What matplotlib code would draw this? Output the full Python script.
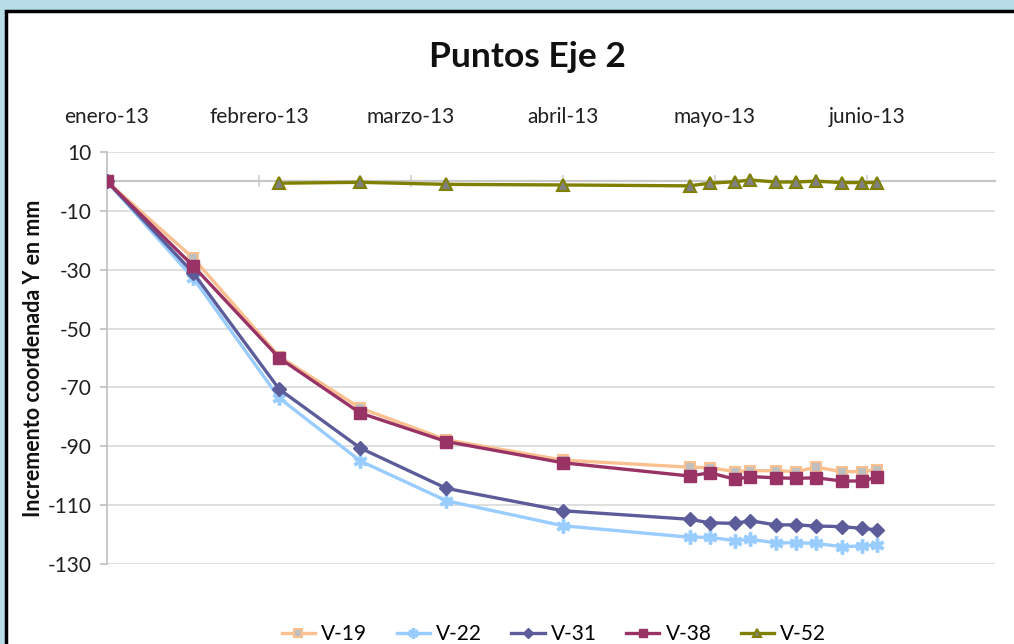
import matplotlib
matplotlib.use("Agg")
import matplotlib.pyplot as plt
from matplotlib.patches import Rectangle

plt.rcParams['font.family'] = ['Lato', 'DejaVu Sans']
plt.rcParams['axes.unicode_minus'] = False

# Days since axis start
days = [0, 17, 34, 50, 67, 90, 115, 119, 124, 127, 132, 136, 140, 145, 149, 152]
days_v52 = days[2:]

v19 = [0, -26, -59.5, -77, -87.8, -94.7, -97.1, -97.3, -98.6, -98.3, -98.3, -98.6, -97.1, -98.6, -98.6, -98.0]
v22 = [0, -32.8, -73.6, -95, -108.5, -117, -120.9, -120.9, -122.1, -121.6, -122.8, -122.8, -123.0, -124.1, -123.9, -123.5]
v31 = [0, -31, -70.6, -90.6, -104.3, -111.9, -114.8, -116.0, -116.2, -115.3, -116.7, -116.7, -117.1, -117.3, -117.9, -118.4]
v38 = [0, -28.7, -60, -78.7, -88.4, -95.6, -100.1, -99.0, -101.2, -100.3, -100.7, -100.9, -100.7, -101.8, -101.8, -100.5]
v52 = [-0.6, -0.3, -1.0, -1.2, -1.5, -0.6, -0.1, 0.5, -0.2, -0.2, 0.1, -0.4, -0.4, -0.4]

month_ticks = [0, 30, 60, 90, 120, 150]
month_labels = ["enero-13", "febrero-13", "marzo-13", "abril-13", "mayo-13", "junio-13"]
y_ticks = [10, -10, -30, -50, -70, -90, -110, -130]

W, H = 1014, 644
FS = 15
fig = plt.figure(figsize=(W / 100, H / 100), dpi=100)
fig.patch.set_facecolor('#b7dee8')
bg = Rectangle((6 / W, -0.1), 1.1, 1 - 11 / H + 0.1, transform=fig.transFigure,
               facecolor='white', edgecolor='black', linewidth=2.5, zorder=-10)
fig.add_artist(bg)

ax = fig.add_axes([107 / W, 1 - 564 / H, (995 - 107) / W, (564 - 152) / H])
ax.set_zorder(1)
ax.set_facecolor('none')

lw = 2.4
ax.plot(days, v19, color='#fac090', lw=lw, marker='s', ms=7, mfc='#bfbfbf', mec='#fac090', mew=1.5, label='V-19', zorder=3)
ax.plot(days, v22, color='#99ccff', lw=lw, marker=(6, 2, 0), ms=10, mec='#99ccff', mew=2.5, label='V-22', zorder=4)
ax.plot(days, v31, color='#5c5c9a', lw=lw, marker='D', ms=7, mfc='#5c5c9a', mec='#5c5c9a', label='V-31', zorder=5)
ax.plot(days, v38, color='#993366', lw=lw, marker='s', ms=8, mfc='#993366', mec='#993366', label='V-38', zorder=6)
ax.plot(days_v52, v52, color='#808000', lw=lw, marker='^', ms=8, mfc='#808080', mec='#808000', mew=1.5, label='V-52', zorder=7)

ax.set_xlim(0, 175.3)
ax.set_ylim(-130, 10)
ax.set_yticks(y_ticks)
ax.set_yticklabels([str(v) for v in y_ticks])
ax.set_xticks(month_ticks)
ax.set_xticklabels(month_labels)

ax.grid(axis='y', color='#d9d9d9', lw=1.2)
ax.set_axisbelow(True)
for s in ['top', 'right']:
    ax.spines[s].set_visible(False)
ax.spines['left'].set_color('#bfbfbf')
ax.spines['left'].set_linewidth(1.2)
ax.spines['bottom'].set_position(('data', 0))
ax.spines['bottom'].set_color('#c8c8c8')
ax.spines['bottom'].set_linewidth(1.6)

ax.tick_params(axis='y', length=5, width=1.2, color='#bfbfbf', labelsize=FS, labelcolor='#202020', pad=6)
ax.tick_params(axis='x', bottom=True, top=False, labelbottom=False, labeltop=True,
               direction='inout', length=8, width=1.2, color='#d0d0d0', labelsize=FS,
               labelcolor='#202020', pad=14)

ax.set_ylabel("Incremento coordenada Y en mm", fontsize=15.5, fontweight='bold', labelpad=3, color='#111111')
fig.text(527 / W, 1 - 57 / H, "Puntos Eje 2", ha='center', va='center', fontsize=25.5, fontweight='bold', color='#111111')

leg = ax.legend(loc='center', bbox_to_anchor=(554 / W, 1 - 634 / H), bbox_transform=fig.transFigure,
                ncol=5, frameon=False, fontsize=FS, handlelength=1.6, columnspacing=1.4, handletextpad=0.3,
                markerscale=0.75, borderpad=0)

fig.savefig("out.png", dpi=100, facecolor=fig.get_facecolor())
